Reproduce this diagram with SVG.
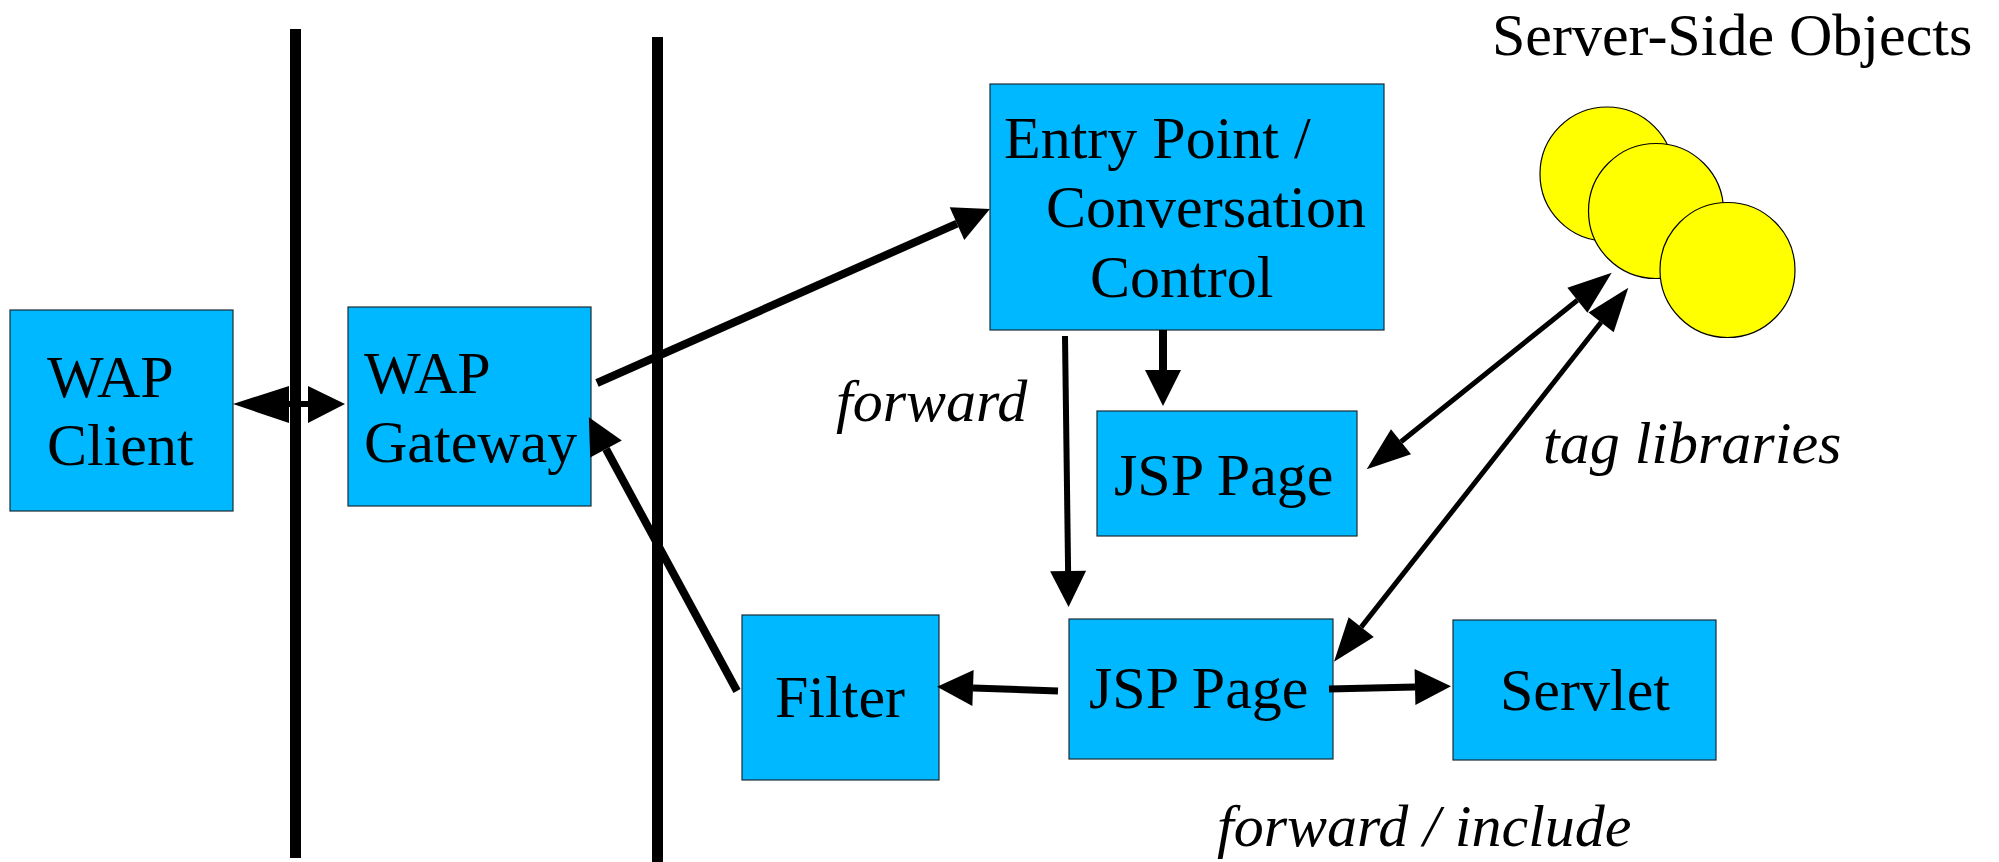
<svg xmlns="http://www.w3.org/2000/svg" width="1999" height="862" viewBox="0 0 1999 862">
<style>
.box{fill:#00b8ff;stroke:#1a2a33;stroke-width:1.2}
.lbl{font-family:"Liberation Serif","Times New Roman",serif;font-size:60px;fill:#000}
.it{font-family:"Liberation Serif","Times New Roman",serif;font-size:60px;font-style:italic;fill:#000}
.obj{fill:#ffff00;stroke:#000;stroke-width:1.2}
.ln{stroke:#000;fill:none}
</style>
<defs>
<marker id="big" markerUnits="userSpaceOnUse" markerWidth="40" markerHeight="40" viewBox="0 -20 40 40" refX="0" refY="0" orient="auto-start-reverse" overflow="visible">
<path d="M0,-18 L36,0 L0,18 Z" fill="#000"/>
</marker>
<marker id="thin" markerUnits="userSpaceOnUse" markerWidth="46" markerHeight="36" viewBox="0 -18 46 36" refX="0" refY="0" orient="auto-start-reverse" overflow="visible">
<path d="M0,-16 L44,0 L0,16 Z" fill="#000"/>
</marker>
</defs>
<rect width="1999" height="862" fill="#fff"/>

<g id="separators">
<rect x="290" y="29" width="11" height="829" fill="#000"/>
<rect x="652" y="37" width="11" height="825" fill="#000"/>
</g>

<g id="wap-client">
<rect class="box" x="10" y="310" width="223" height="201"/>
<text class="lbl" x="47" y="397">WAP</text>
<text class="lbl" x="47" y="465">Client</text>
</g>

<g id="wap-gateway">
<rect class="box" x="348" y="307" width="243" height="199"/>
<text class="lbl" x="364" y="393">WAP</text>
<text class="lbl" x="364" y="462">Gateway</text>
</g>

<g id="entry-point">
<rect class="box" x="990" y="84" width="394" height="246"/>
<text class="lbl" x="1004" y="158">Entry Point /</text>
<text class="lbl" x="1046" y="227">Conversation</text>
<text class="lbl" x="1090" y="297">Control</text>
</g>

<g id="jsp-page-top">
<rect class="box" x="1097" y="411" width="260" height="125"/>
<text class="lbl" x="1114" y="495">JSP Page</text>
</g>

<g id="jsp-page-bottom">
<rect class="box" x="1069" y="619" width="264" height="140"/>
<text class="lbl" x="1089" y="708">JSP Page</text>
</g>

<g id="filter">
<rect class="box" x="742" y="615" width="197" height="165"/>
<text class="lbl" x="775" y="717">Filter</text>
</g>

<g id="servlet">
<rect class="box" x="1453" y="620" width="263" height="140"/>
<text class="lbl" x="1500" y="710">Servlet</text>
</g>

<g id="server-side-objects">
<text class="lbl" x="1492" y="55">Server-Side Objects</text>
<circle class="obj" cx="1607" cy="174" r="67"/>
<circle class="obj" cx="1656" cy="211" r="67.5"/>
<circle class="obj" cx="1727.5" cy="270" r="67.5"/>
</g>

<g id="connectors">
<!-- client <-> gateway -->
<rect x="285" y="401" width="28" height="6" fill="#000"/>
<polygon points="233,404 289,386 289,423" fill="#000"/>
<polygon points="345,404 308,386 308,423" fill="#000"/>
<!-- gateway -> entry -->
<line class="ln" x1="597" y1="383" x2="957" y2="223.6" stroke-width="8" marker-end="url(#big)"/>
<!-- entry -> jsp top -->
<line class="ln" x1="1163" y1="330" x2="1163" y2="370" stroke-width="8" marker-end="url(#big)"/>
<!-- forward -->
<line class="ln" x1="1065" y1="336" x2="1068.1" y2="571" stroke-width="6" marker-end="url(#big)"/>
<!-- jsp bottom -> filter -->
<line class="ln" x1="1058" y1="691" x2="973" y2="688" stroke-width="7" marker-end="url(#big)"/>
<!-- jsp bottom -> servlet -->
<line class="ln" x1="1329" y1="689" x2="1415" y2="687" stroke-width="7" marker-end="url(#big)"/>
<!-- filter -> gateway -->
<line class="ln" x1="737" y1="691" x2="606" y2="449" stroke-width="8" marker-end="url(#big)"/>
<!-- tag libraries -->
<line class="ln" x1="1401" y1="441.8" x2="1577.4" y2="300.2" stroke-width="5" marker-start="url(#thin)" marker-end="url(#thin)"/>
<line class="ln" x1="1361.2" y1="627.1" x2="1601.1" y2="322.3" stroke-width="5" marker-start="url(#thin)" marker-end="url(#thin)"/>
</g>

<g id="labels">
<text class="it" x="836" y="421">forward</text>
<text class="it" x="1543" y="463">tag libraries</text>
<text class="it" x="1217" y="846">forward / include</text>
</g>
</svg>
